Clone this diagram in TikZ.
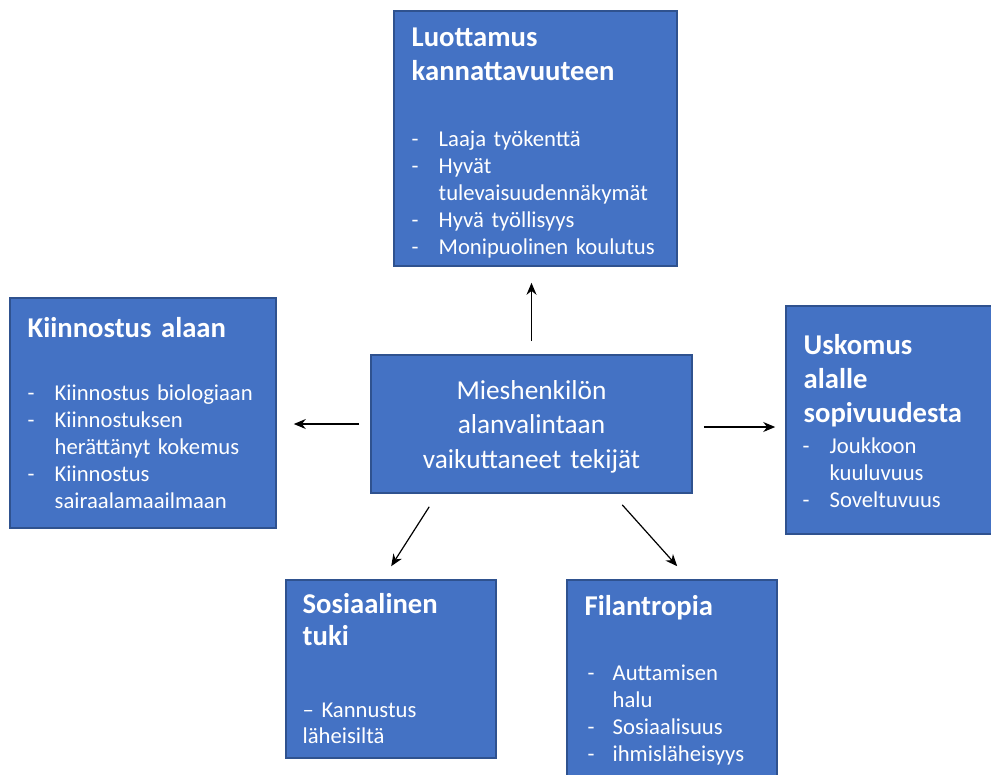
\documentclass[tikz,border=0pt]{standalone}
\usepackage{fontspec}
\setmainfont{Carlito}
\usetikzlibrary{arrows.meta}
\definecolor{boxblue}{HTML}{4472C4}
\definecolor{boxedge}{HTML}{2F528F}
\newcommand\dashitem[2][20.25pt]{\hangindent=#1\relax\hangafter=1\relax\noindent\makebox[#1][l]{-}#2\par}

\begin{document}
\begin{tikzpicture}[x=.75pt,y=-.75pt,line width=1pt,
  box/.style={draw=boxedge,fill=boxblue,line width=1.2pt,inner sep=0},
  ttl/.style={anchor=base west,inner sep=0,text=white,text width=220pt,align=left,font=\bfseries\fontsize{21.5}{25}\selectfont},
  lst/.style={anchor=base west,inner sep=0,text=white,text width=220pt,font=\fontsize{17}{20.25}\selectfont},
  arr/.style={-{Stealth[length=9pt,width=7.5pt]},line width=.9pt}]
\useasboundingbox (0,0) rectangle (991,774);
\node[box,minimum width=212.25pt,minimum height=191.25pt] (luot) at (535.5,138.5) {};
\node[box,minimum width=199.5pt,minimum height=172.5pt] (kiin) at (143,413) {};
\node[box,minimum width=164.25pt,minimum height=171pt] (usko) at (895.5,420) {};
\node[box,minimum width=240.75pt,minimum height=103.5pt] (mies) at (531.5,424) {};
\node[box,minimum width=157.5pt,minimum height=133.5pt] (sosi) at (391,669) {};
\node[box,minimum width=157.5pt,minimum height=157.5pt] (fila) at (672,685) {};
\node[ttl] (luotT) at (411,47) {Luottamus\\kannattavuuteen};
\node[lst] (luotL) at (411,146) {\dashitem{Laaja työkenttä}\dashitem{Hyvät\newline tulevaisuudennäkymät}\dashitem{Hyvä työllisyys}\dashitem{Monipuolinen koulutus}};
\node[ttl] (kiinT) at (27,337) {Kiinnostus alaan};
\node[lst] (kiinL) at (27,400) {\dashitem{Kiinnostus biologiaan}\dashitem{Kiinnostuksen\newline herättänyt kokemus}\dashitem{Kiinnostus\newline sairaalamaailmaan}};
\node[ttl,font=\bfseries\fontsize{21.5}{25.5}\selectfont] (uskoT) at (803,354) {Uskomus\\alalle\\sopivuudesta};
\node[lst] (uskoL) at (802,453) {\dashitem{Joukkoon\newline kuuluvuus}\dashitem{Soveltuvuus}};
\node[anchor=base,inner sep=0,text=white,text width=300pt,align=center,font=\fontsize{20.5}{26}\selectfont] (miesT) at (531.5,399) {Mieshenkilön\\alanvalintaan\\vaikuttaneet tekijät};
\node[ttl,font=\bfseries\fontsize{21.5}{24}\selectfont] (sosiT) at (302,613) {Sosiaalinen\\tuki};
\node[lst,font=\fontsize{17}{19.5}\selectfont] (sosiL) at (302,717) {\noindent– Kannustus\newline läheisiltä};
\node[ttl] (filaT) at (584,615) {Filantropia};
\node[lst] (filaL) at (587,680) {\dashitem[18.75pt]{Auttamisen\newline halu}\dashitem[18.75pt]{Sosiaalisuus}\dashitem[18.75pt]{ihmisläheisyys}};
\draw[arr,shorten <=9.75pt,shorten >=12pt] (mies.north) -- (mies.north |- luot.south);
\draw[arr,shorten <=8.25pt,shorten >=12.75pt] (mies.west) -- (mies.west -| kiin.east);
\draw[arr,shorten <=8.25pt,shorten >=7.5pt] ([yshift=-2.25pt]mies.east) -- ([yshift=-2.25pt]mies.east -| usko.west);
\draw[arr] ([xshift=44.25pt,yshift=-9.75pt]mies.south west) -- ([xshift=79.5pt,yshift=9.75pt]sosi.north west);
\draw[arr] ([xshift=189pt,yshift=-8.25pt]mies.south west) -- ([xshift=83.25pt,yshift=9.75pt]fila.north west);
\end{tikzpicture}
\end{document}
